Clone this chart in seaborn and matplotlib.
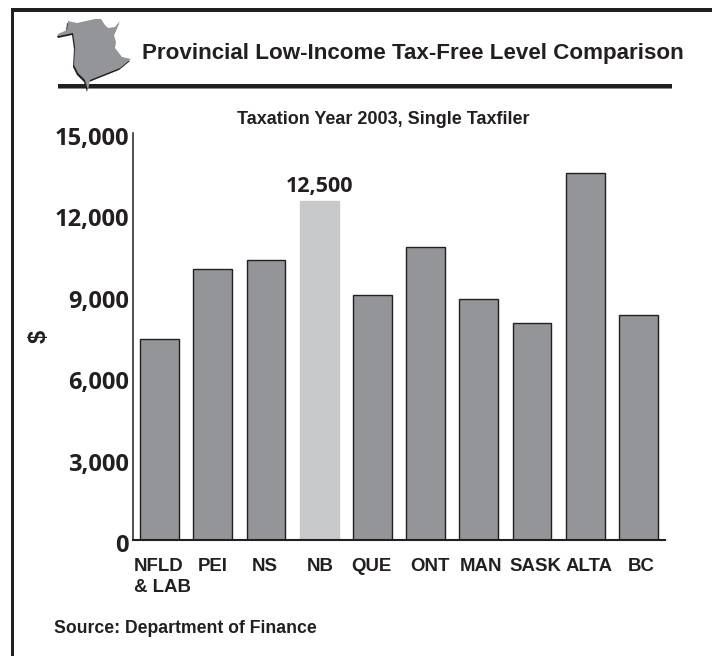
import matplotlib
matplotlib.use("Agg")
import matplotlib.pyplot as plt
from matplotlib.patches import Polygon, Rectangle
from matplotlib.transforms import Affine2D, ScaledTranslation
import pandas as pd
import seaborn as sns

provinces = ["NFLD\n& LAB", "PEI", "NS", "NB", "QUE", "ONT", "MAN", "SASK", "ALTA", "BC"]
values = [7410, 10000, 10320, 12500, 9030, 10800, 8880, 8000, 13530, 8290]
highlight = "NB"
y_ticks = [0, 3000, 6000, 9000, 12000, 15000]
y_tick_labels = ["0", "3,000", "6,000", "9,000", "12,000", "15,000"]

INK = "#231f20"
BAR = "#939598"
LIGHT = "#c7c8ca"
W, H = 712, 656

sns.set_theme(style="white")
plt.rcParams["font.family"] = ["Liberation Sans", "DejaVu Sans"]

fig = plt.figure(figsize=(W / 100, H / 100), dpi=100, facecolor="white")
px = Affine2D().scale(1, -1).translate(0, H)
ax = fig.add_axes([133 / W, (H - 540) / H, (665 - 133) / W, (540 - 133) / H])

df = pd.DataFrame({"province": provinces, "value": values})
palette = {p: (LIGHT if p == highlight else BAR) for p in provinces}
sns.barplot(data=df, x="province", y="value", hue="province", palette=palette,
            dodge=False, legend=False, width=0.73, edgecolor=INK, linewidth=1.0,
            saturation=1, ax=ax)
for patch in ax.patches:
    if abs(patch.get_height() - values[provinces.index(highlight)]) < 1:
        patch.set_edgecolor(LIGHT)

ax.set_xlim(-0.5, 9.5)
ax.set_ylim(0, 15000)
ax.set_xlabel("")
ax.set_ylabel("")
sns.despine(ax=ax)
for side in ("left", "bottom"):
    ax.spines[side].set_color(INK)
ax.spines["left"].set_linewidth(1.1)
ax.spines["bottom"].set_linewidth(1.5)

ax.set_yticks(y_ticks)
ax.set_yticklabels(y_tick_labels, family="Open Sans", fontweight="bold", fontsize=17, color=INK)
ax.tick_params(axis="y", length=0, pad=3)
dpi_scale = fig.dpi_scale_trans
for lab in ax.get_yticklabels():
    lab.set_transform(lab.get_transform() + ScaledTranslation(0, -3 / 100, dpi_scale))

ax.set_xticks(range(len(provinces)))
ax.set_xticklabels(provinces, fontweight="bold", fontsize=13.4, color=INK, linespacing=1.26,
                   multialignment="left")
ax.tick_params(axis="x", length=0, pad=13.3)
label_nudge = [3, 0, -1, 1, -1, 4, 2, 3, 4, 3]
for lab, dx in zip(ax.get_xticklabels(), label_nudge):
    lab.set_transform(lab.get_transform() + ScaledTranslation(dx / 100, 0, dpi_scale))

nb = provinces.index(highlight)
ax.annotate(f"{values[nb]:,}", xy=(nb, values[nb]), xytext=(0, 4), textcoords="offset pixels",
            ha="center", va="bottom", family="Open Sans", fontweight="bold", fontsize=15.5, color=INK)

# Frame, header rule and province silhouette, placed in pixel space
art = [Rectangle((10.7, 8.3), W - 10.7, 3.4, color=INK, lw=0),
       Rectangle((10.7, 8.3), 3.4, H - 8.3, color=INK, lw=0),
       Rectangle((58, 84), 614, 3.5, color=INK, lw=0),
       Rectangle((58, 87.5), 614, 1, color="#8a8a8a", lw=0)]
for a in art:
    a.set_transform(px)
    fig.add_artist(a)

outline = [(68, 21), (77, 23), (95, 19), (101, 19), (105, 25), (108, 28), (115, 27), (120, 21),
           (114, 35), (116, 42), (115, 48), (122, 57), (131, 59),
           (120, 68), (90, 80), (88, 90), (85, 80), (78, 73), (74, 65), (75, 47), (73, 33),
           (59, 36), (58, 34), (67, 30)]
shadow = Polygon([(x - 1, y + 2) for x, y in outline], closed=True, facecolor=INK, edgecolor="none")
shape = Polygon(outline, closed=True, facecolor=BAR, edgecolor="none")
for a in (shadow, shape):
    a.set_transform(px)
    fig.add_artist(a)

fig.text(142 / W, 1 - 53 / H, "Provincial Low-Income Tax-Free Level Comparison", fontweight="bold",
         fontsize=16.12, color=INK, ha="left", va="center")
fig.text(237 / W, 1 - 119 / H, "Taxation Year 2003, Single Taxfiler", fontweight="bold",
         fontsize=13, color=INK, ha="left", va="center")
fig.text(54 / W, 1 - 628.5 / H, "Source: Department of Finance", fontweight="bold",
         fontsize=12.7, color=INK, ha="left", va="center")
fig.text(39 / W, 1 - 336 / H, "$", fontweight="bold", fontsize=17, color=INK, rotation=90,
         ha="center", va="center")

fig.savefig("out.png", dpi=100, facecolor="white")
